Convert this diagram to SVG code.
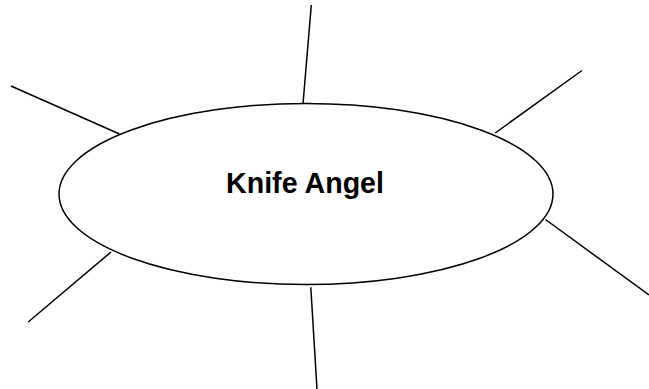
<svg xmlns="http://www.w3.org/2000/svg" width="649" height="389" viewBox="0 0 649 389">
<style>
.c line{stroke:#000;stroke-width:1.5;fill:none}
.n ellipse{fill:#fff;stroke:#000;stroke-width:1.5}
.n text{font-family:"Liberation Sans",Arial,sans-serif;font-weight:bold;font-size:30px;fill:#000}
</style>
<rect width="649" height="389" fill="#fff"/>
<g id="connectors" class="c">
<line x1="311.3" y1="5" x2="303" y2="104"/>
<line x1="11" y1="86" x2="119.5" y2="134"/>
<line x1="582" y1="70.5" x2="495.2" y2="133"/>
<line x1="545.5" y1="219.5" x2="649" y2="295"/>
<line x1="310.8" y1="287.3" x2="317" y2="389"/>
<line x1="111" y1="252" x2="28.2" y2="322"/>
</g>
<g id="center" class="n">
<ellipse cx="306" cy="194" rx="247" ry="90.5"/>
<text x="226" y="193.3" textLength="158" lengthAdjust="spacingAndGlyphs">Knife Angel</text>
</g>
</svg>
